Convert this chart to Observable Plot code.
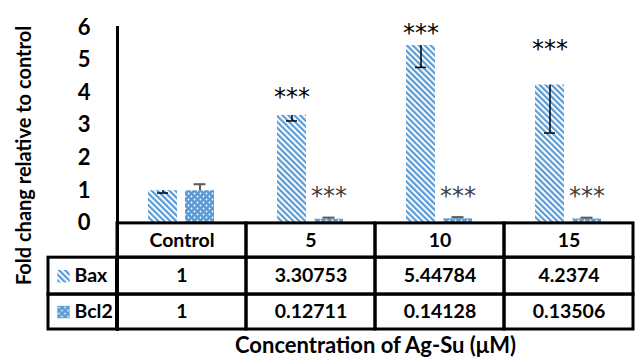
<!DOCTYPE html>
<html><head><meta charset="utf-8">
<script src="https://cdn.jsdelivr.net/npm/d3@7"></script>
<script src="https://cdn.jsdelivr.net/npm/@observablehq/plot@0.6"></script>
<style>
body{margin:0;background:#fff;}
</style>
</head><body><div id="chart"></div>
<script>
// ---- data ----
const categories = ["Control", "5", "10", "15"];
const genes = ["Bax", "Bcl2"];
const baxValues = [1, 3.30753, 5.44784, 4.2374];
const bcl2Values = [1, 0.12711, 0.14128, 0.13506];
const baxErrors = [0.07, 0.17, 0.67, 1.47];   // drawn downward
const bcl2Errors = [0.2, 0.05, 0.05, 0.04];   // drawn upward
const baxStars = ["", "***", "***", "***"];
const bcl2Stars = ["", "***", "***", "***"];
const baxStarY = [null, 4.07, 6.03, 5.54];
const bcl2StarY = [null, 1.05, 1.05, 1.05];
const yTicks = [0, 1, 2, 3, 4, 5, 6];
const yTitle = "Fold chang relative to control";
const xTitle = "Concentration of Ag-Su (μM)";

// ---- layout / style ----
const BLUE = "#5B9BD5";
const FONT = "Lato, sans-serif";
const rowEdges = [0, -1.05, -2.18, -3.25]; // table rows below the zero line
const pat = {Bax: "url(#baxPat)", Bcl2: "url(#bcl2Pat)"};

const bars = categories.flatMap((c, i) => [
  {cat: c, gene: "Bax", value: baxValues[i], end: baxValues[i] - baxErrors[i], star: baxStars[i], starY: baxStarY[i]},
  {cat: c, gene: "Bcl2", value: bcl2Values[i], end: bcl2Values[i] + bcl2Errors[i], star: bcl2Stars[i], starY: bcl2StarY[i]}
]);
const baxBars = bars.filter(d => d.gene === "Bax");
const bcl2Bars = bars.filter(d => d.gene === "Bcl2");

const cells = categories.flatMap((c, i) => [
  {cat: c, row: 0, text: c},
  {cat: c, row: 1, text: String(baxValues[i])},
  {cat: c, row: 2, text: String(bcl2Values[i])}
]).map(d => ({...d, y1: rowEdges[d.row], y2: rowEdges[d.row + 1]}));

const legendRows = genes.map((g, j) => ({cat: categories[0], gene: g, y1: rowEdges[j + 1], y2: rowEdges[j + 2]}));
const mid = d => (d.y1 + d.y2) / 2;

const chart = Plot.plot({
  width: 636, height: 358,
  marginLeft: 116, marginRight: 2, marginTop: 27, marginBottom: 29,
  style: {fontFamily: FONT, fontWeight: "bold", color: "black", background: "white"},
  fx: {domain: categories, padding: 0, axis: null},
  x: {domain: genes, paddingInner: 0.21, paddingOuter: 0.83, axis: null},
  y: {domain: [rowEdges[3], 6]},
  marks: [
    Plot.barY(baxBars, {fx: "cat", x: "gene", y: "value", fill: pat.Bax}),
    Plot.barY(bcl2Bars, {fx: "cat", x: "gene", y: "value", fill: pat.Bcl2}),
    Plot.ruleX(baxBars, {fx: "cat", x: "gene", y1: "value", y2: "end", stroke: "black", strokeWidth: 1.5}),
    Plot.tickY(baxBars, {fx: "cat", x: "gene", y: "end", stroke: "black", strokeWidth: 1.5, insetLeft: 9, insetRight: 9}),
    Plot.ruleX(bcl2Bars, {fx: "cat", x: "gene", y1: "value", y2: "end", stroke: "#595959", strokeWidth: 2}),
    Plot.tickY(bcl2Bars, {fx: "cat", x: "gene", y: "end", stroke: "#595959", strokeWidth: 2, insetLeft: 8.5, insetRight: 8.5}),
    Plot.text(baxBars.filter(d => d.star), {fx: "cat", x: "gene", y: "starY", text: "star", fontFamily: "DejaVu Sans", fontWeight: "normal", fontSize: 24, fill: "black", dy: 7}),
    Plot.text(bcl2Bars.filter(d => d.star), {fx: "cat", x: "gene", y: "starY", text: "star", fontFamily: "DejaVu Sans", fontWeight: "normal", fontSize: 24, fill: "#404040", dy: 7}),
    // table
    Plot.barY(cells, {fx: "cat", y1: "y1", y2: "y2", fill: "none", stroke: "black", strokeWidth: 3}),
    Plot.text(cells, {fx: "cat", y: mid, text: "text", fontSize: 19.5, fontWeight: "bold", fill: "black"}),
    Plot.barY(legendRows, {fx: "cat", y1: "y1", y2: "y2", fill: "none", stroke: "black", strokeWidth: 3, insetLeft: -69, insetRight: 129.5}),
    Plot.text(legendRows, {fx: "cat", y: mid, text: "gene", frameAnchor: "left", textAnchor: "start", dx: -43, fontSize: 19.5, fill: "black"}),
    Plot.dot(legendRows.filter(d => d.gene === "Bax"), {fx: "cat", y: mid, frameAnchor: "left", dx: -54, symbol: "square", r: 7, fill: pat.Bax, stroke: null}),
    Plot.dot(legendRows.filter(d => d.gene === "Bcl2"), {fx: "cat", y: mid, frameAnchor: "left", dx: -54, symbol: "square", r: 7, fill: pat.Bcl2, stroke: null}),
    // axes
    Plot.axisY(yTicks, {tickSize: 0, tickPadding: 27, fontSize: 22, fontWeight: "bold", label: null, fill: "black"}),
    Plot.frame({anchor: "left", stroke: "black", strokeWidth: 3, facetAnchor: "left"}),
    Plot.text([yTitle], {facet: "super", frameAnchor: "left", textAnchor: "middle", lineAnchor: "middle", rotate: -90, dx: -93, dy: -23, fontSize: 20, fontWeight: "bold", fill: "black"}),
    Plot.text([xTitle], {facet: "super", frameAnchor: "bottom", textAnchor: "middle", lineAnchor: "middle", dy: 16, fontSize: 22, fontWeight: "bold", fill: "black"})
  ]
});

const defs = d3.select(chart).insert("defs", ":first-child");
const bp = defs.append("pattern").attr("id", "baxPat").attr("patternUnits", "userSpaceOnUse")
  .attr("width", 4.2).attr("height", 4.2).attr("patternTransform", "rotate(-45)");
bp.append("rect").attr("width", 4.2).attr("height", 4.2).attr("fill", "white");
bp.append("rect").attr("width", 2.2).attr("height", 4.2).attr("fill", BLUE);
const dp = defs.append("pattern").attr("id", "bcl2Pat").attr("patternUnits", "userSpaceOnUse")
  .attr("width", 6).attr("height", 6);
dp.append("rect").attr("width", 6).attr("height", 6).attr("fill", BLUE);
dp.append("circle").attr("cx", 1.5).attr("cy", 1.5).attr("r", 0.9).attr("fill", "white");
dp.append("circle").attr("cx", 4.5).attr("cy", 4.5).attr("r", 0.9).attr("fill", "white");

document.getElementById("chart").appendChild(chart);
</script>
</body></html>
